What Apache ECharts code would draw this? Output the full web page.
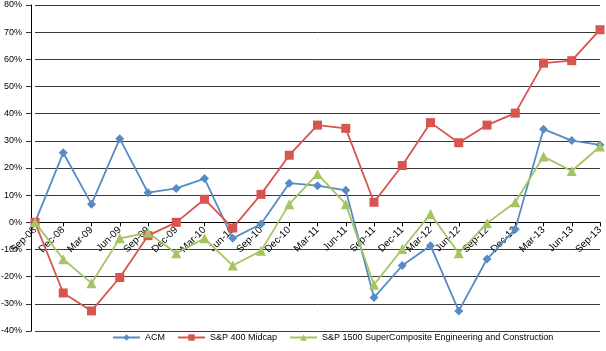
<!DOCTYPE html>
<html>
<head>
<meta charset="utf-8">
<script src="https://cdn.jsdelivr.net/npm/echarts@6/dist/echarts.min.js"></script>
<style>
  html, body { margin: 0; padding: 0; background: #fff; }
  #chart { width: 606px; height: 351px; }
</style>
</head>
<body>
<div id="chart"></div>
<script>
// 数据
var categories = ['Sep-08', 'Dec-08', 'Mar-09', 'Jun-09', 'Sep-09', 'Dec-09', 'Mar-10', 'Jun-10', 'Sep-10', 'Dec-10',
  'Mar-11', 'Jun-11', 'Sep-11', 'Dec-11', 'Mar-12', 'Jun-12', 'Sep-12', 'Dec-12', 'Mar-13', 'Jun-13', 'Sep-13'];
var acm = [0, 25.6, 6.7, 30.8, 10.9, 12.5, 16.1, -5.9, -0.6, 14.4,
  13.5, 11.8, -27.7, -15.9, -8.6, -32.6, -13.5, -2.5, 34.3, 30.1, 28.5];
var midcap = [0, -26.0, -32.6, -20.3, -4.9, 0, 8.5, -2.1, 10.3, 24.7,
  35.8, 34.6, 7.4, 20.9, 36.7, 29.3, 35.8, 40.2, 58.6, 59.5, 70.9];
var sp1500 = [0, -13.6, -22.4, -5.9, -3.8, -11.4, -5.9, -15.9, -10.5, 6.7,
  17.8, 6.7, -23.0, -9.8, 3.1, -11.4, -0.3, 7.4, 24.2, 18.9, 27.9];
var seriesNames = ['ACM', 'S&P 400 Midcap', 'S&P 1500 SuperComposite Engineering and Construction'];

var myChart = echarts.init(document.getElementById('chart'));
var font = 'Liberation Sans, Arial, sans-serif';
var gridTop = 5, gridBottom = 20, yMin = -40, yMax = 80;
// x轴放在0%处
var zeroOffset = -(351 - gridTop - gridBottom) * (0 - yMin) / (yMax - yMin);

var option = {
  backgroundColor: '#fff',
  animation: false,
  textStyle: { fontFamily: font },
  grid: { left: 35, right: 6, top: gridTop, bottom: gridBottom, containLabel: false, outerBoundsMode: 'none' },
  legend: {
    data: seriesNames,
    bottom: 4,
    left: 107,
    itemWidth: 27,
    itemHeight: 8,
    itemGap: 12,
    textStyle: { fontSize: 9, color: '#000', fontFamily: font }
  },
  xAxis: {
    type: 'category',
    data: categories,
    boundaryGap: false,
    offset: zeroOffset,
    axisLine: { onZero: false, lineStyle: { color: '#000', width: 1 } },
    axisTick: { show: true, length: 4, lineStyle: { color: '#000' } },
    axisLabel: { rotate: 45, fontSize: 10, color: '#000', margin: 6, interval: 0 },
    splitLine: { show: false }
  },
  yAxis: {
    type: 'value',
    min: yMin,
    max: yMax,
    interval: 10,
    offset: 4,
    axisLine: { show: true, lineStyle: { color: '#000', width: 1 } },
    axisTick: { show: true, length: 5, lineStyle: { color: '#333' } },
    axisLabel: { formatter: '{value}%', fontSize: 9, color: '#000', margin: 9 },
    splitLine: { lineStyle: { color: '#3a3a3a', width: 1 } }
  },
  series: [
    {
      name: seriesNames[0], type: 'line', data: acm,
      symbol: 'diamond', symbolSize: 9,
      itemStyle: { color: '#568bc4' },
      lineStyle: { color: '#568bc4', width: 1.8 }
    },
    {
      name: seriesNames[1], type: 'line', data: midcap,
      symbol: 'rect', symbolSize: 9,
      itemStyle: { color: '#d9534f' },
      lineStyle: { color: '#d9534f', width: 1.8 }
    },
    {
      name: seriesNames[2], type: 'line', data: sp1500,
      symbol: 'triangle', symbolSize: 10,
      itemStyle: { color: '#a5c462' },
      lineStyle: { color: '#a5c462', width: 1.8 }
    }
  ]
};
myChart.setOption(option);
</script>
</body>
</html>
